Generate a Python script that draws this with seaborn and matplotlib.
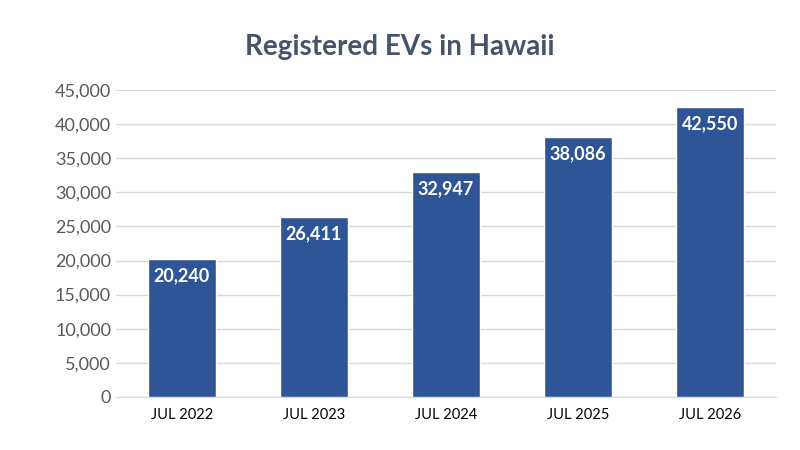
import matplotlib
matplotlib.use("Agg")
import matplotlib.pyplot as plt
import seaborn as sns
import pandas as pd

# Chart data
periods = ['JUL 2022', 'JUL 2023', 'JUL 2024', 'JUL 2025', 'JUL 2026']
evs = [20240, 26411, 32947, 38086, 42550]

df = pd.DataFrame({'period': periods, 'evs': evs})

sns.set_style('white')
plt.rcParams['font.family'] = ['Lato', 'DejaVu Sans']

fig = plt.figure(figsize=(8, 4.5), dpi=100)
ax = fig.add_axes([0.145, 0.118, 0.825, 0.682])

sns.barplot(data=df, x='period', y='evs', color='#2F5597', width=0.52,
            saturation=1, ax=ax, zorder=3)

ax.set_ylim(0, 45000)
ax.set_yticks(range(0, 45001, 5000))
ax.yaxis.set_major_formatter(matplotlib.ticker.FuncFormatter(lambda v, p: f'{int(v):,}'))
ax.grid(axis='y', color='#D9D9D9', linewidth=1, zorder=0)
ax.tick_params(axis='y', labelsize=13, colors='#595959', length=0)
ax.tick_params(axis='x', labelsize=10.5, colors='#000000', length=0, pad=8)
ax.set_xlabel('')
ax.set_ylabel('')
for s in ['top', 'right', 'left']:
    ax.spines[s].set_visible(False)
ax.spines['bottom'].set_color('#D9D9D9')

for bar, v in zip(ax.patches, evs):
    ax.text(bar.get_x() + bar.get_width() / 2, v - 1200, f'{v:,}',
            ha='center', va='top', color='white', fontsize=13, fontweight='bold')

fig.text(0.5, 0.895, 'Registered EVs in Hawaii', ha='center', va='center',
         fontsize=20, fontweight='bold', color='#44546A')

fig.savefig('out.png')
